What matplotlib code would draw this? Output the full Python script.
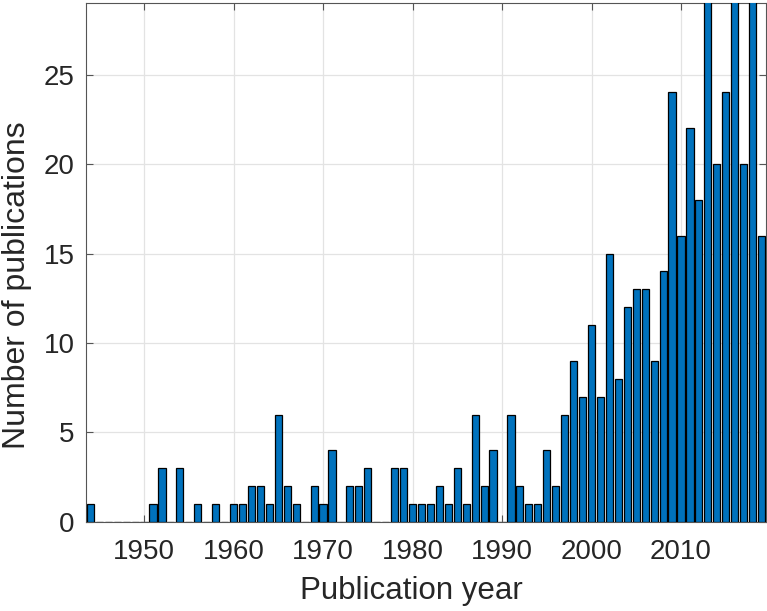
import matplotlib.pyplot as plt

plt.rcParams['font.family'] = ['Liberation Sans', 'DejaVu Sans']

years = list(range(1944, 2020))
counts = [1, 0, 0, 0, 0, 0, 0, 1, 3, 0, 3, 0, 1, 0, 1, 0,   # 1944-1959
          1, 1, 2, 2, 1, 6, 2, 1, 0, 2,                     # 1960-1969
          1, 4, 0, 2, 2, 3, 0, 0, 3, 3,                     # 1970-1979
          1, 1, 1, 2, 1, 3, 1, 6, 2, 4,                     # 1980-1989
          0, 6, 2, 1, 1, 4, 2, 6, 9, 7,                     # 1990-1999
          11, 7, 15, 8, 12, 13, 13, 9, 14, 24,              # 2000-2009
          16, 22, 18, 31, 20, 24, 33, 20, 32, 16]           # 2010-2019
xticks = [1950, 1960, 1970, 1980, 1990, 2000, 2010]
yticks = [0, 5, 10, 15, 20, 25]

fig = plt.figure(figsize=(7.67, 6.11), dpi=100)
ax = fig.add_axes([0.112, 0.1457, 0.8867, 0.8494])

ax.bar(years, counts, width=0.8, color='#0072BD', edgecolor='black', linewidth=0.9, zorder=3)

ax.set_xlim(1943.5, 2019.5)
ax.set_ylim(0, 29)
ax.set_xticks(xticks)
ax.set_yticks(yticks)
ax.grid(True, color='#e3e3e3', linewidth=0.9, zorder=0)
ax.set_axisbelow(True)

ax.tick_params(direction='in', length=5, width=0.8, colors='#555555',
               labelcolor='#262626', labelsize=20, top=True, right=True)
ax.tick_params(axis='x', pad=12)
ax.tick_params(axis='y', pad=8)
for s in ax.spines.values():
    s.set_color('#555555')
    s.set_linewidth(0.8)

ax.set_xlabel('Publication year', fontsize=22.5, color='#262626')
ax.set_ylabel('Number of publications', fontsize=23, color='#262626', va='center')
# MATLAB put the labels slightly off-centre
ax.xaxis.set_label_coords(0.478, -0.104)
ax.yaxis.set_label_coords(-0.102, 0.457)

fig.savefig('out.png', dpi=100)
